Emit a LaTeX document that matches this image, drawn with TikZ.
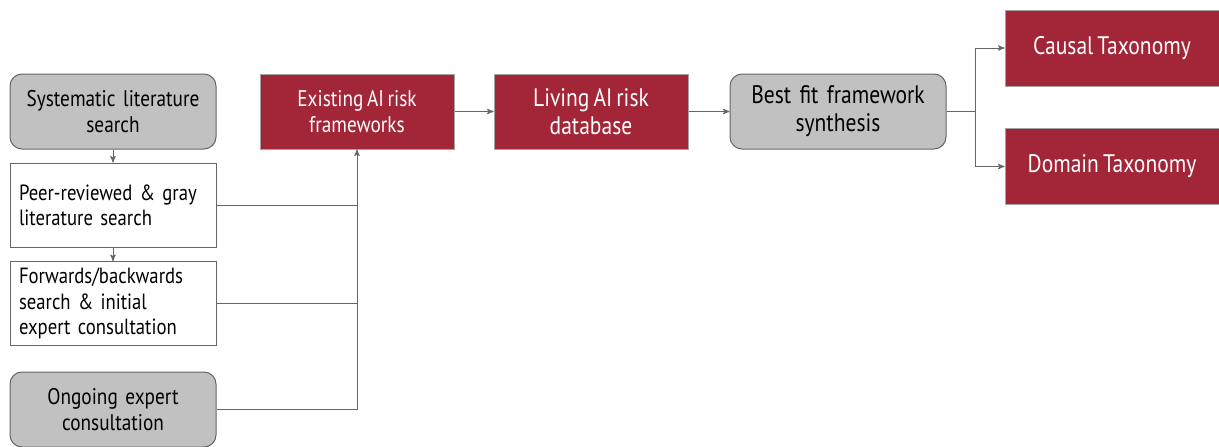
\documentclass[tikz,border=0pt]{standalone}
\usepackage{fontspec}
\setmainfont{PT Sans}[FakeStretch=0.85,WordSpace=0.7]
\usetikzlibrary{arrows,positioning}
\definecolor{riskred}{HTML}{A22538}
\definecolor{boxgray}{HTML}{C1C1C1}
\definecolor{linegray}{HTML}{666666}

\begin{document}
\begin{tikzpicture}[->,>=stealth',x=0.75pt,y=-0.75pt,line width=0.75pt,draw=linegray]
\tikzstyle{every node}=[font=\fontsize{17}{19}\selectfont,inner sep=0pt]
\tikzstyle{grey box}=[draw=linegray,fill=boxgray,rounded corners=9pt,minimum width=154.5pt,minimum height=56.25pt,text width=145pt,align=center]
\tikzstyle{white box}=[draw=linegray,fill=white,minimum width=154.5pt,minimum height=63pt,text width=141pt,align=left,font=\fontsize{16.5}{19}\selectfont]
\tikzstyle{red box}=[draw=linegray!60,fill=riskred,text=white,minimum height=56.25pt,align=center,font=\fontsize{19}{21}\selectfont]
\useasboundingbox (0,0) rectangle (1219,446);

\node[grey box]  (sys)    at (113,111.5) {Systematic literature\\search};
\node[white box] (peer)   at (113,205)   {Peer-reviewed \& gray\\literature search};
\node[white box] (fwd)    at (113,303.5) {Forwards/backwards\\search \& initial\\expert consultation};
\node[grey box]  (ongo)   at (113,409.5) {Ongoing expert\\consultation};
\node[red box,minimum width=145.5pt,font=\fontsize{17}{19}\selectfont] (exist) at (357,111.5) {Existing AI risk\\frameworks};
\node[red box,minimum width=145.5pt] (living) at (591,111.5) {Living AI risk\\database};
\node[grey box,minimum width=162pt,font=\fontsize{19}{21}\selectfont] (best) at (838,111.5) {Best fit framework\\synthesis};
\node[red box,minimum width=160.5pt,minimum height=57pt] (causal) at (1112,48)  {Causal Taxonomy};
\node[red box,minimum width=160.5pt,minimum height=57pt] (domain) at (1112,166.5) {Domain Taxonomy};
\coordinate (split) at (975,111.5);

\path
(sys) edge (peer)
(peer) edge (fwd)
(exist) edge (living)
(living) edge (best)
;
\draw[-] (peer.east) -- (peer.east -| exist.south);
\draw[-] (fwd.east) -- (fwd.east -| exist.south);
\draw (ongo.east) -| (exist.south);
\draw[-] (best.east) -- (split);
\draw (split) |- (causal.west);
\draw (split) |- (domain.west);
\end{tikzpicture}
\end{document}
